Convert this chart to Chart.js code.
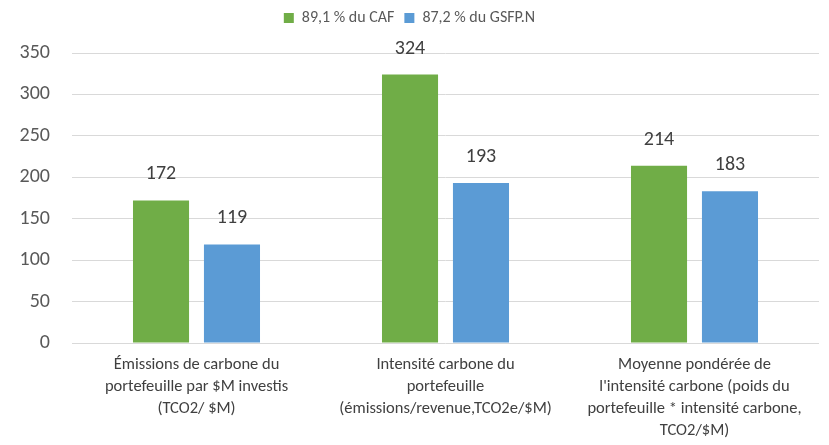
<!DOCTYPE html>
<html>
<head>
<meta charset="utf-8">
<script src="https://cdn.jsdelivr.net/npm/chart.js@4/dist/chart.umd.min.js"></script>
<style>
  html, body { margin: 0; padding: 0; background: #fff; }
  #wrap { width: 829px; height: 445px; }
</style>
</head>
<body>
<div id="wrap"><canvas id="chart" width="829" height="445"></canvas></div>
<script>
// Data
const categories = [
    ["Émissions de carbone du", "portefeuille par $M investis", "(TCO2/ $M)"],
    ["Intensité carbone du", "portefeuille", "(émissions/revenue,TCO2e/$M)"],
    ["Moyenne pondérée de", "l'intensité carbone (poids du", "portefeuille * intensité carbone,", "TCO2/$M)"]
];
const cafValues = [172, 324, 214];
const gsfpValues = [119, 193, 183];
const seriesNames = ["89,1 % du CAF", "87,2 % du GSFP.N"];
const yTicks = { min: 0, max: 350, step: 50 };

const FONT = "Carlito, Lato, 'Open Sans', sans-serif";

// draw the value above each bar
const valueLabels = {
    id: 'valueLabels',
    afterDatasetsDraw(chart) {
        const ctx = chart.ctx;
        ctx.save();
        ctx.font = "20px " + FONT;
        ctx.fillStyle = "#404040";
        ctx.textAlign = "center";
        ctx.textBaseline = "middle";
        chart.data.datasets.forEach((ds, i) => {
            let meta = chart.getDatasetMeta(i);
            meta.data.forEach((bar, j) => {
                ctx.fillText(ds.data[j], bar.x, bar.y - 26);
            });
        });
        ctx.restore();
    }
};

// leave more room under the legend, like the original
const legendGap = {
    id: 'legendGap',
    beforeInit(chart) {
        const fit = chart.legend.fit;
        chart.legend.fit = function () {
            fit.bind(chart.legend)();
            this.height += 17;
        };
    }
};

new Chart(document.getElementById('chart').getContext('2d'), {
    type: 'bar',
    data: {
        labels: categories,
        datasets: [
            { label: seriesNames[0], data: cafValues, backgroundColor: '#70AD47' },
            { label: seriesNames[1], data: gsfpValues, backgroundColor: '#5B9BD5' }
        ]
    },
    options: {
        responsive: false,
        animation: false,
        layout: { padding: { left: 0, right: 10, top: 0, bottom: 0 } },
        datasets: { bar: { categoryPercentage: 0.57, barPercentage: 0.79 } },
        plugins: {
            legend: {
                position: 'top',
                labels: {
                    boxWidth: 10, boxHeight: 10,
                    color: '#595959',
                    font: { family: FONT, size: 16 },
                    padding: 10
                }
            },
            tooltip: { enabled: false }
        },
        scales: {
            x: {
                grid: { display: false },
                border: { display: false },
                ticks: {
                    color: '#404040',
                    font: { family: FONT, size: 16.5, lineHeight: 1.33 },
                    maxRotation: 0,
                    padding: 3
                },
                afterFit: (s) => { s.height = 102; }
            },
            y: {
                min: yTicks.min, max: yTicks.max,
                ticks: {
                    stepSize: yTicks.step,
                    color: '#595959',
                    font: { family: FONT, size: 20 },
                    padding: 22
                },
                grid: { color: '#d9d9d9', drawTicks: false, lineWidth: 1 },
                border: { display: false },
                afterFit: (s) => { s.width = 72; }
            }
        }
    },
    plugins: [valueLabels, legendGap]
});
</script>
</body>
</html>
